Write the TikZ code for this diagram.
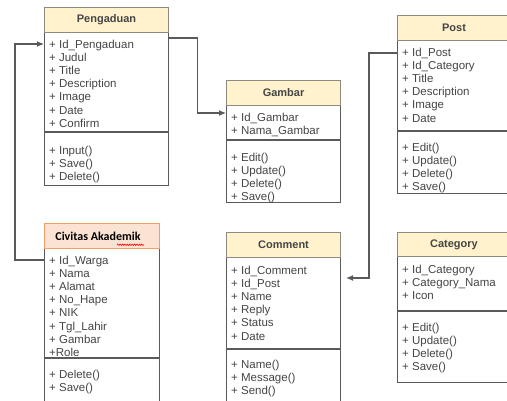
\documentclass[tikz,border=0pt]{standalone}
\usepackage{fontspec}
\setmainfont{Liberation Sans}
\newfontfamily\calibrifont{Carlito}
\usetikzlibrary{arrows.meta,decorations.pathmorphing}
\definecolor{linec}{HTML}{5A5A5A}
\definecolor{headfill}{HTML}{FFF2CC}
\definecolor{headline}{HTML}{8E8A80}
\definecolor{civfill}{HTML}{FBE3D3}
\definecolor{civline}{HTML}{F2A066}
\definecolor{txt}{HTML}{454545}
\tikzset{
  classbox/.style={draw=linec, line width=1.1pt, inner sep=0pt, fill=white},
  headbox/.style={draw=headline, line width=1.1pt, fill=headfill, inner sep=0pt,
    font=\fontsize{11}{13}\selectfont\bfseries, text=txt},
  civhead/.style={draw=civline, line width=1.1pt, fill=civfill, inner sep=0pt},
  sepline/.style={draw=linec, line width=1.1pt},
  attrtxt/.style={font=\fontsize{11.5}{13.1}\selectfont, text=txt, align=left, inner sep=0pt, anchor=north west},
  conn/.style={draw=linec, line width=1.1pt},
  arr/.style={conn, -{Latex[length=7pt,width=6pt]}},
}
\newcommand\umlclass[9]{% name,x,top,w,yh,ya,yb,title,headstyle
  \node[classbox, minimum width=#4pt, minimum height={(#7-#3)*1pt}, anchor=north west] (#1) at (#2,#3) {};
  \node[#9, minimum width=#4pt, minimum height={(#5-#3)*1pt}, anchor=north west] (#1-h) at (#2,#3) {#8};
  \draw[sepline] (#2,#6) -- ++(#4,0);
}
\begin{document}
\begin{tikzpicture}[x=1pt,y=-1pt]
\useasboundingbox (0,0) rectangle (507,400);
\clip (0,0) rectangle (507,400);
\fill[white] (0,0) rectangle (507,400);

% Pengaduan
\umlclass{peng}{44}{7}{124}{32}{132}{185}{Pengaduan}{headbox}
\node[attrtxt] (peng-at) at (49,40) {+ Id\_Pengaduan\\+ Judul\\+ Title\\+ Description\\+ Image\\+ Date\\+ Confirm};
\node[attrtxt] (peng-me) at (49,146) {+ Input()\\+ Save()\\+ Delete()};

% Gambar
\umlclass{gamb}{226}{80}{114}{105}{140}{202}{Gambar}{headbox}
\node[attrtxt] (gamb-at) at (231,113) {+ Id\_Gambar\\+ Nama\_Gambar};
\node[attrtxt] (gamb-me) at (231,153) {+ Edit()\\+ Update()\\+ Delete()\\+ Save()};

% Post
\umlclass{post}{397}{15}{113}{40}{131}{193}{}{headbox}
\node[font=\fontsize{11}{13}\selectfont\bfseries, text=txt] (post-t) at (454,28) {Post};
\node[attrtxt] (post-at) at (402,48) {+ Id\_Post\\+ Id\_Category\\+ Title\\+ Description\\+ Image\\+ Date};
\node[attrtxt] (post-me) at (402,143) {+ Edit()\\+ Update()\\+ Delete()\\+ Save()};

% Comment
\umlclass{comm}{226}{232}{114}{257}{349}{410}{Comment}{headbox}
\node[attrtxt] (comm-at) at (231,266) {+ Id\_Comment\\+ Id\_Post\\+ Name\\+ Reply\\+ Status\\+ Date};
\node[attrtxt] (comm-me) at (231,360) {+ Name()\\+ Message()\\+ Send()};

% Category
\umlclass{cat}{397}{232}{113}{256}{311}{382}{}{headbox}
\node[font=\fontsize{11}{13}\selectfont\bfseries, text=txt] (cat-t) at (454,245) {Category};
\node[attrtxt] (cat-at) at (402,265) {+ Id\_Category\\+ Category\_Nama\\+ Icon};
\node[attrtxt] (cat-me) at (402,323) {+ Edit()\\+ Update()\\+ Delete()\\+ Save()};

% Civitas Akademik
\umlclass{civ}{44}{223}{115}{248}{358}{410}{}{civhead}
\node[font=\fontsize{12}{14}\selectfont\calibrifont\bfseries, text=black] (civ-t) at (98,236) {Civitas Akademik};
\draw[red, line width=0.6pt, decorate, decoration={snake, amplitude=0.7pt, segment length=2.4pt}]
  ([xshift=19pt,yshift=-1pt]civ-t.south) -- ([yshift=-1pt]civ-t.south east);
\node[attrtxt] (civ-at) at (49,256) {+ Id\_Warga\\+ Nama\\+ Alamat\\+ No\_Hape\\+ NIK\\+ Tgl\_Lahir\\+ Gambar\\+Role};
\node[attrtxt] (civ-me) at (49,370) {+ Delete()\\+ Save()};

% connectors
\draw[arr] ([yshift=-37pt]civ.north west) -- ++(-29,0) |- ([yshift=-37pt]peng.north west);
\draw[arr] ([yshift=-31pt]peng.north east) -- ++(28,0) |- ([yshift=-33pt]gamb.north west);
\draw[arr, shorten >=5pt] ([yshift=-38pt]post.north west) -- ++(-28,0) |- ([yshift=-46pt]comm.north east);
\end{tikzpicture}
\end{document}
